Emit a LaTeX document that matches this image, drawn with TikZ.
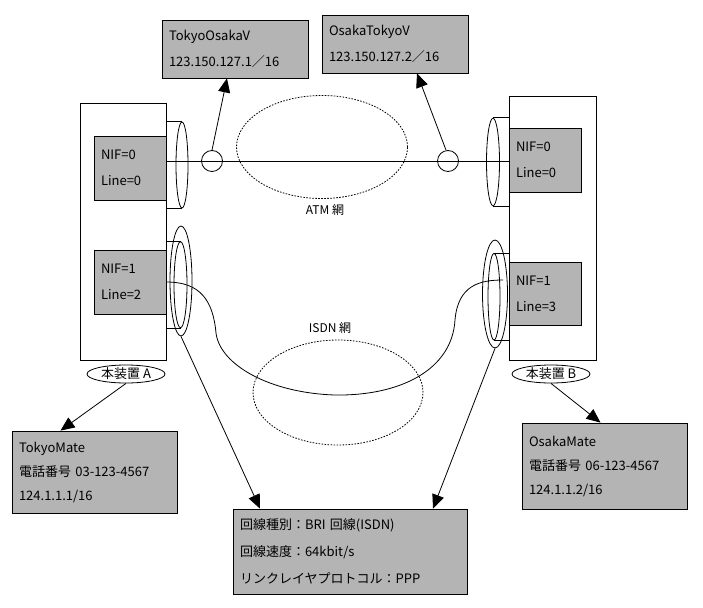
\documentclass[tikz,border=0pt]{standalone}
\usepackage{fontspec}
\setmainfont{Noto Sans CJK JP}
\usetikzlibrary{shapes.geometric,arrows.meta}

\definecolor{boxgray}{RGB}{180,180,180}

\begin{document}
\begin{tikzpicture}[x=1pt,y=-1pt,line width=0.8pt]
\tikzstyle{every node}=[font=\fontsize{13}{26}\selectfont]
\tikzstyle{infobox}=[draw,fill=boxgray,align=left,inner xsep=7pt,inner ysep=0pt]
\tikzstyle{device}=[draw,fill=white,inner sep=0pt]
\tikzstyle{port}=[draw,ellipse,inner sep=0pt]
\tikzstyle{net}=[draw,ellipse,dash pattern=on 1.6pt off 1.4pt,inner sep=0pt]
\tikzstyle{tag}=[draw,ellipse,inner sep=0pt,text height=9pt,text depth=1pt,minimum width=78pt,minimum height=18pt]
\tikzstyle{pointer}=[-{Triangle[width=12pt,length=14pt]}]

\useasboundingbox (0,0) rectangle (703,607);

\node[device,minimum width=86pt,minimum height=257pt] (devA) at (123,231.5) {};
\node[device,minimum width=87pt,minimum height=264pt] (devB) at (552.5,228) {};

\node[infobox,text width=58pt,minimum height=64pt] (nifA0) at (130,168) {NIF=0\\Line=0};
\node[infobox,text width=58pt,minimum height=64pt] (nifA1) at (130,282) {NIF=1\\Line=2};
\node[infobox,text width=58pt,minimum height=64pt] (nifB0) at (545,160) {NIF=0\\Line=0};
\node[infobox,text width=58pt,minimum height=63pt] (nifB1) at (545,293.5) {NIF=1\\Line=3};

\node[tag] (tagA) at (126,374) {本装置 A};
\node[tag] (tagB) at (551,374) {本装置 B};

% ATM side
\node[port,minimum width=12pt,minimum height=86pt] (atmA) at (182,165) {};
\draw (devA.east |- atmA.north) -- (atmA.north);
\draw (devA.east |- atmA.south) -- (atmA.south);
\node[port,minimum width=13pt,minimum height=87.5pt] (atmB) at (493,162) {};
\draw (devB.west |- atmB.north) -- (atmB.north);
\draw (devB.west |- atmB.south) -- (atmB.south);

\node[draw,circle,minimum size=21pt,inner sep=0pt] (vcA) at (212,161) {};
\node[draw,circle,minimum size=21pt,inner sep=0pt] (vcB) at (448,161) {};
\draw (devA.east |- vcA) -- (devB.west |- vcB);

\node[net,minimum width=171pt,minimum height=103pt] (atm) at (322,147) {};
\node[font=\fontsize{12}{14}\selectfont] (atmtxt) at (325,210) {ATM 網};

% ISDN side
\node[port,minimum width=22pt,minimum height=110pt] (isdnA) at (181,281) {};
\node[port,minimum width=13pt,minimum height=86pt] (isdnAi) at (180.5,284.7) {};
\draw (devA.east |- isdnAi.north) -- (isdnAi.north);
\draw (devA.east |- isdnAi.south) -- (isdnAi.south);
\node[port,minimum width=25pt,minimum height=108pt] (isdnB) at (495,294) {};
\node[port,minimum width=12pt,minimum height=86.6pt] (isdnBi) at (494,296.7) {};
\draw (devB.west |- isdnBi.north) -- (isdnBi.north);
\draw (devB.west |- isdnBi.south) -- (isdnBi.south);

\node[net,minimum width=170pt,minimum height=105pt] (isdn) at (338,392.5) {};
\node[font=\fontsize{12}{14}\selectfont] (isdntxt) at (330,328) {ISDN 網};

\coordinate (lnB) at (503,280);
\draw (nifA1.east) .. controls (200,282) and (213,300) .. (216,333)
  .. controls (220,365) and (270,393) .. (335,395)
  .. controls (400,396) and (452,370) .. (455,320)
  .. controls (458,285) and (480,280) .. (lnB);

% info boxes
\node[infobox,text width=132pt,minimum height=58pt] (tov) at (235,49) {TokyoOsakaV\\123.150.127.1／16};
\node[infobox,text width=132pt,minimum height=58pt] (otv) at (395,44) {OsakaTokyoV\\123.150.127.2／16};
\node[infobox,text width=151pt,minimum height=82pt,font=\fontsize{13}{24}\selectfont] (tmate) at (94.5,472) {TokyoMate\\電話番号 03-123-4567\\124.1.1.1/16};
\node[infobox,text width=151pt,minimum height=86pt,font=\fontsize{13}{24}\selectfont] (omate) at (604.5,466) {OsakaMate\\電話番号 06-123-4567\\124.1.1.2/16};
\node[infobox,text width=220pt,minimum height=85pt,font=\fontsize{13}{27}\selectfont] (line) at (350,551.5) {回線種別：BRI 回線(ISDN)\\回線速度：64kbit/s\\リンクレイヤプロトコル：PPP};

\draw[pointer] (vcA.north) -- ([xshift=-8pt]tov.south);
\draw[pointer] ([xshift=-2pt]vcB.north) -- ([xshift=22pt]otv.south);
\draw[pointer] (tagA.south) -- ([xshift=-34pt]tmate.north);
\draw[pointer] (tagB.south) -- ([xshift=-4pt]omate.north);
\draw[pointer] (isdnA.south) -- ([xshift=-90pt]line.north);
\draw[pointer] (isdnB.south) -- ([xshift=83pt]line.north);
\end{tikzpicture}
\end{document}
